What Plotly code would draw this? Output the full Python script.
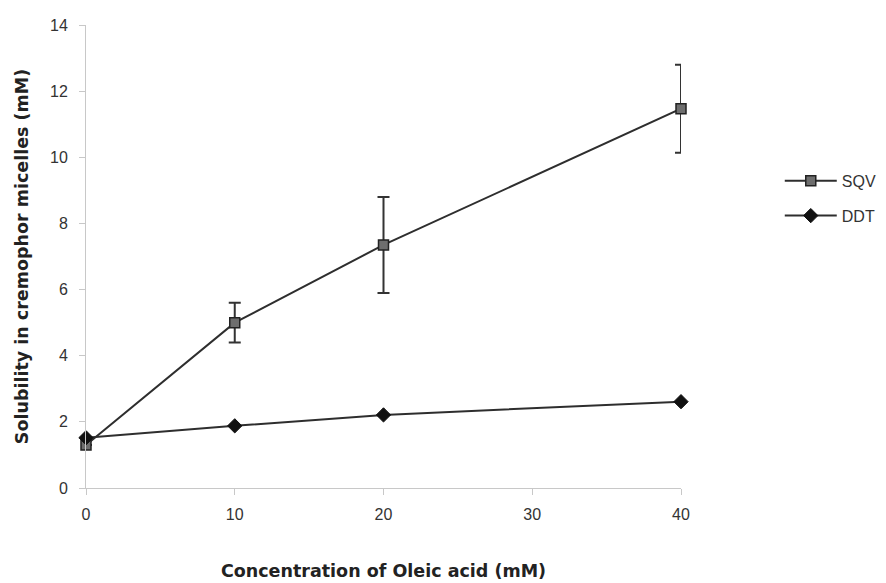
import plotly.graph_objects as go

x_vals = [0, 10, 20, 40]
sqv = [1.3, 5.0, 7.35, 11.47]
sqv_err = [0.0, 0.6, 1.45, 1.33]
ddt = [1.52, 1.88, 2.21, 2.61]

x_ticks = [0, 10, 20, 30, 40]
y_ticks = [0, 2, 4, 6, 8, 10, 12, 14]

font_family = "Liberation Sans, Arial, sans-serif"
title_family = "DejaVu Sans, Liberation Sans, sans-serif"

fig = go.Figure()
fig.add_trace(go.Scatter(
    x=x_vals, y=sqv, name="SQV", mode="lines+markers",
    legendgroup="a",
    line=dict(color="#2e2e2e", width=2),
    marker=dict(symbol="square", size=10, color="#6e6e6e",
                line=dict(color="#222222", width=1.5)),
    error_y=dict(type="data", array=sqv_err, visible=True,
                 color="#333333", thickness=2, width=6),
    cliponaxis=False,
))
fig.add_trace(go.Scatter(
    x=x_vals, y=ddt, name="DDT", mode="lines+markers",
    legendgroup="b",
    line=dict(color="#2e2e2e", width=2),
    marker=dict(symbol="diamond", size=11, color="#111111",
                line=dict(color="#111111", width=1)),
    cliponaxis=False,
))

fig.update_layout(
    width=886, height=583,
    margin=dict(l=86, r=205, t=25, b=95, autoexpand=False),
    paper_bgcolor="white", plot_bgcolor="white",
    font=dict(family=font_family, size=16, color="#333333"),
    showlegend=True,
    legend=dict(x=1.166, y=0.70, xanchor="left", yanchor="top",
                font=dict(size=16, color="#333333"),
                bgcolor="rgba(0,0,0,0)", traceorder="grouped",
                tracegroupgap=11, itemwidth=52),
    xaxis=dict(
        range=[0, 40], tickvals=x_ticks, showgrid=False, zeroline=False,
        showline=True, linecolor="#c8c8c8", linewidth=1,
        ticks="outside", ticklen=6, tickcolor="#c8c8c8",
        ticklabelstandoff=6, automargin=False,
        title=dict(text="<b>Concentration of Oleic acid (mM)</b>",
                   font=dict(family=title_family, size=17.5, color="#222222"),
                   standoff=42),
    ),
    yaxis=dict(
        range=[0, 14], tickvals=y_ticks, showgrid=False, zeroline=False,
        showline=True, linecolor="#c8c8c8", linewidth=1,
        ticks="outside", ticklen=6, tickcolor="#c8c8c8",
        ticklabelstandoff=8, automargin=False,
        title=dict(text="<b>Solubility in cremophor micelles (mM)</b>",
                   font=dict(family=title_family, size=17.5, color="#222222"),
                   standoff=16),
    ),
)

fig.write_html("out.html")
